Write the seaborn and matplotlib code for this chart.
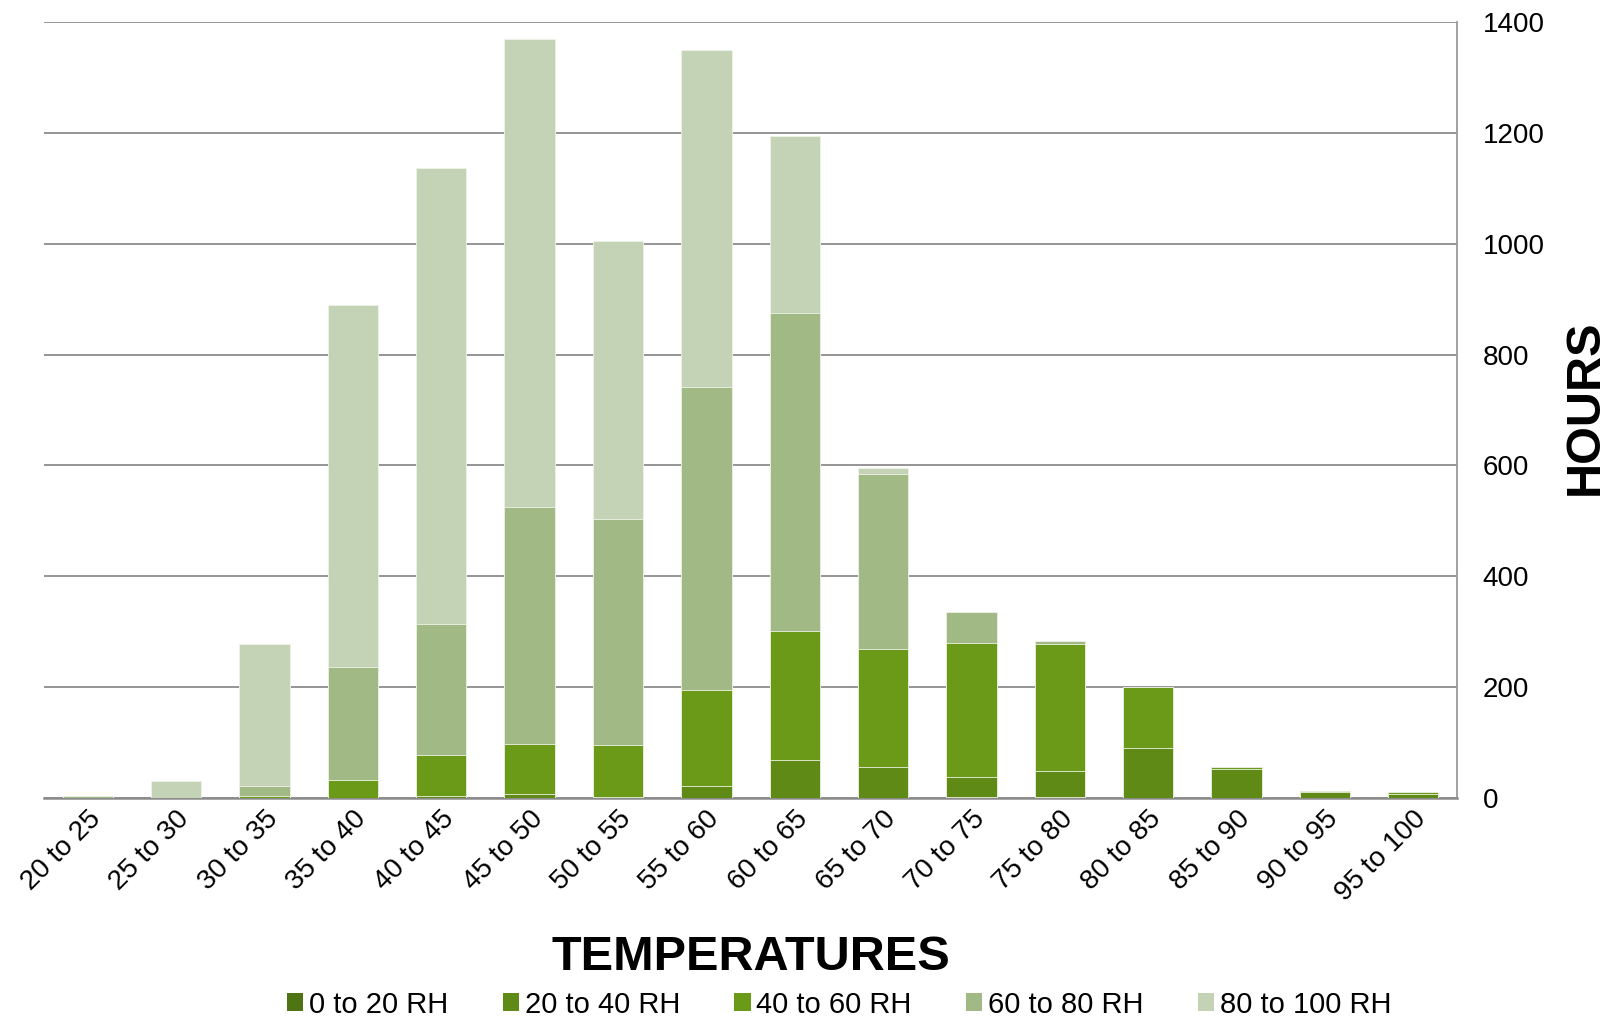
import numpy as np
import pandas as pd
import matplotlib
matplotlib.use("Agg")
import matplotlib.pyplot as plt
import seaborn as sns
from matplotlib.patches import Patch

# Data
temps = ['20 to 25', '25 to 30', '30 to 35', '35 to 40', '40 to 45', '45 to 50',
         '50 to 55', '55 to 60', '60 to 65', '65 to 70', '70 to 75', '75 to 80',
         '80 to 85', '85 to 90', '90 to 95', '95 to 100']
rh_0_20 = [0, 0, 0, 0, 0, 0, 0, 0, 0, 0, 2, 2, 0, 0, 0, 0]
rh_20_40 = [0, 0, 0, 0, 3, 7, 2, 22, 69, 56, 35, 46, 91, 52, 10, 8]
rh_40_60 = [0, 0, 4, 33, 75, 90, 93, 173, 232, 213, 243, 229, 109, 4, 3, 2]
rh_60_80 = [4, 0, 17, 203, 236, 428, 408, 546, 574, 316, 56, 7, 0, 0, 0, 0]
rh_80_100 = [0, 30, 256, 653, 822, 845, 501, 609, 319, 11, 0, 0, 0, 0, 0, 0]

series_names = ['0 to 20 RH', '20 to 40 RH', '40 to 60 RH', '60 to 80 RH', '80 to 100 RH']
series_vals = [rh_0_20, rh_20_40, rh_40_60, rh_60_80, rh_80_100]
colors = ['#4f7413', '#5f8a15', '#6b9a18', '#a0b985', '#c4d2b6']

df = pd.DataFrame(dict(zip(series_names, series_vals)), index=temps)
cum = df.cumsum(axis=1)

sns.set_theme(style="white")
plt.rcParams['font.family'] = ['Liberation Sans', 'DejaVu Sans']
plt.rcParams['text.color'] = 'black'
plt.rcParams['xtick.color'] = 'black'
plt.rcParams['ytick.color'] = 'black'

fig = plt.figure(figsize=(16.14, 10.23), dpi=100)
ax = fig.add_axes([0.027, 0.22, 0.876, 0.7585])

# stacked bars: draw the cumulative totals from the top series down
for name, col in reversed(list(zip(series_names, colors))):
    sns.barplot(x=temps, y=cum[name].values, color=col, width=0.57,
                edgecolor='#eef3e8', linewidth=0.6, saturation=1, ax=ax, zorder=3)

ax.set_xlim(-0.5, len(temps) - 0.5)
ax.set_ylim(0, 1400)
ax.set_yticks(range(0, 1401, 200))
ax.yaxis.tick_right()
ax.grid(axis='y', color='#8c8c8c', linewidth=1.3, zorder=0)
ax.set_axisbelow(True)
for side in ['left', 'top']:
    ax.spines[side].set_visible(False)
ax.spines['right'].set_color('#9a9a9a')
ax.spines['right'].set_linewidth(1.3)
ax.spines['bottom'].set_color('#8c8c8c')
ax.spines['bottom'].set_linewidth(1.8)

ax.tick_params(axis='y', length=0, pad=18, labelsize=20, labelcolor='black')
ax.tick_params(axis='x', length=0, pad=6, labelsize=20, labelcolor='black')
for lab in ax.get_yticklabels():
    lab.set_horizontalalignment('left')
plt.setp(ax.get_xticklabels(), rotation=45, ha='right', rotation_mode='anchor')

ax.set_xlabel('')
ax.set_ylabel('')
fig.text(0.465, 0.064, 'TEMPERATURES', ha='center', va='center',
         fontsize=35, fontweight='bold', color='black')
fig.text(0.982, 0.602, 'HOURS', ha='center', va='center', rotation=90,
         fontsize=35, fontweight='bold', color='black')

handles = [Patch(facecolor=c, edgecolor='none') for c in colors]
fig.legend(handles, series_names, loc='center', bbox_to_anchor=(0.52, 0.018),
           ncol=5, frameon=False, handlelength=0.55, handleheight=0.55,
           handletextpad=0.2, columnspacing=1.87,
           prop={'size': 21})

fig.savefig('out.png', dpi=100)
